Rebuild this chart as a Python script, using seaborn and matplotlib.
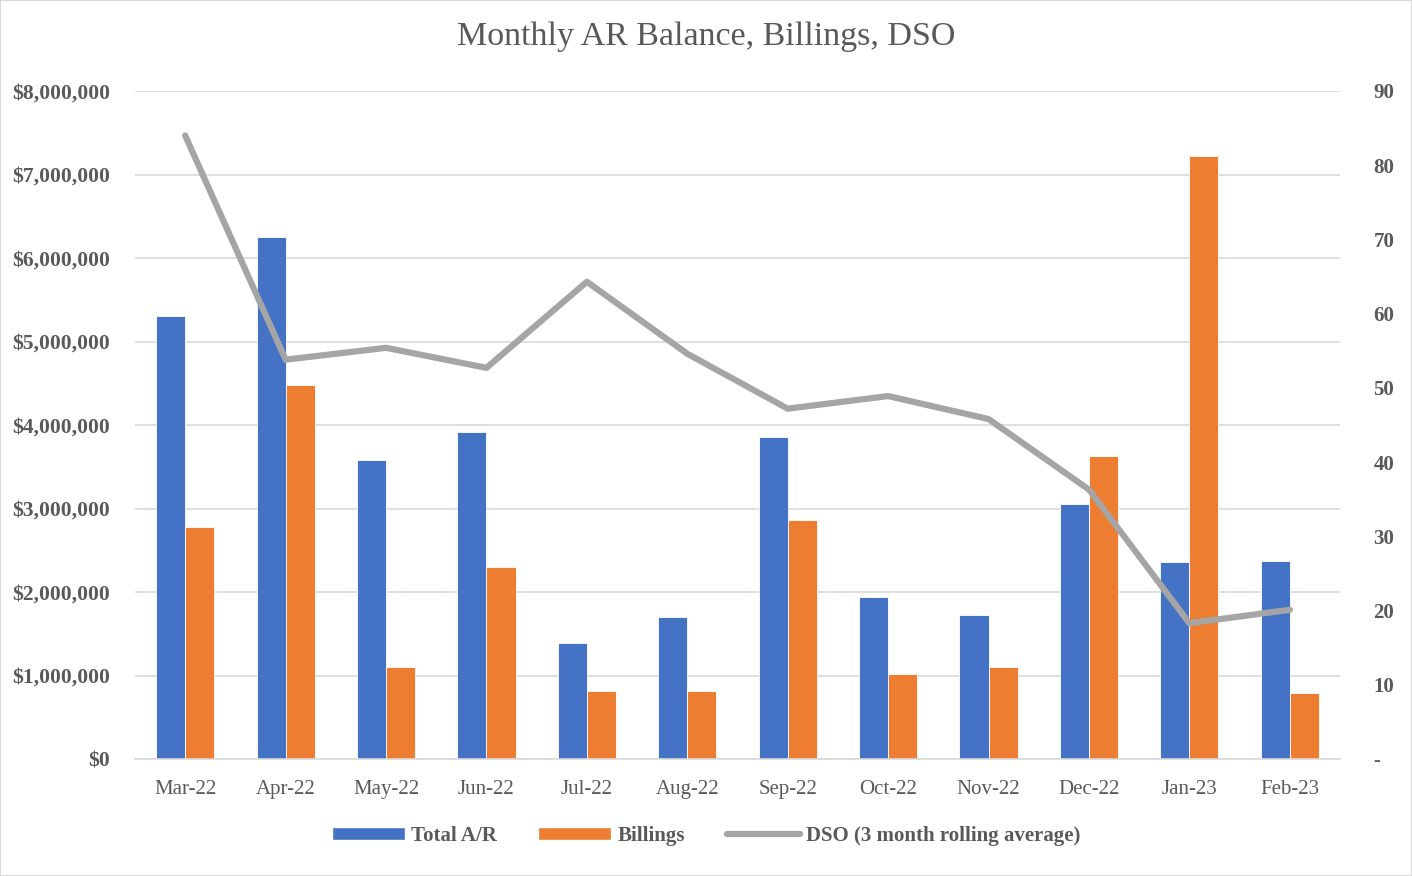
import matplotlib
matplotlib.use("Agg", force=True)
import matplotlib.pyplot as plt
import matplotlib.ticker as mticker
import numpy as np
import pandas as pd
import seaborn as sns
from matplotlib.lines import Line2D
from matplotlib.patches import Patch, Rectangle

MONTHS = ["Mar-22", "Apr-22", "May-22", "Jun-22", "Jul-22", "Aug-22",
          "Sep-22", "Oct-22", "Nov-22", "Dec-22", "Jan-23", "Feb-23"]
TOTAL_AR = [5_305_000, 6_250_000, 3_580_000, 3_920_000, 1_390_000, 1_700_000,
            3_860_000, 1_940_000, 1_720_000, 3_050_000, 2_360_000, 2_370_000]
BILLINGS = [2_780_000, 4_480_000, 1_100_000, 2_300_000, 810_000, 810_000,
            2_860_000, 1_020_000, 1_100_000, 3_630_000, 7_220_000, 790_000]
DSO = [84.0, 53.8, 55.4, 52.7, 64.3, 54.6, 47.2, 48.9, 45.8, 36.3, 18.3, 20.1]

BLUE = "#4472C4"
ORANGE = "#ED7D31"
GREY = "#A5A5A5"
TEXT = "#595959"
SERIF = ["Liberation Serif", "DejaVu Serif"]


def main() -> None:
    sns.set_theme(style="white")
    plt.rcParams["font.family"] = SERIF

    bars = pd.DataFrame({
        "month": MONTHS * 2,
        "value": TOTAL_AR + BILLINGS,
        "series": ["Total A/R"] * len(MONTHS) + ["Billings"] * len(MONTHS),
    })

    fig = plt.figure(figsize=(14.12, 8.76), dpi=100)
    ax = fig.add_axes([135 / 1412, 1 - 759 / 876, 1205 / 1412, 668 / 876])
    sns.barplot(data=bars, x="month", y="value", hue="series", order=MONTHS,
                palette=[BLUE, ORANGE], width=0.58, saturation=1, ax=ax,
                legend=False, zorder=2, linewidth=0.6)
    ax.set_ylim(0, 8_000_000)
    ax.set_xlim(-0.5, len(MONTHS) - 0.5)
    ax.yaxis.set_major_locator(mticker.MultipleLocator(1_000_000))
    ax.yaxis.set_major_formatter(mticker.FuncFormatter(lambda v, _: f"${v:,.0f}"))
    ax.grid(axis="y", color="#D9D9D9", linewidth=1.2, zorder=0)
    ax.set_axisbelow(True)
    for side in ["top", "right", "left"]:
        ax.spines[side].set_visible(False)
    ax.spines["bottom"].set_color("#D9D9D9")
    ax.spines["bottom"].set_linewidth(1.2)
    ax.set_xlabel("")
    ax.set_ylabel("")
    ax.tick_params(axis="x", which="major", length=0, pad=15, labelsize=15, labelcolor=TEXT)
    ax.set_xticks(np.arange(-0.5, len(MONTHS)), minor=True)
    ax.tick_params(axis="x", which="minor", length=7, color="#D9D9D9", width=1.2)
    ax.tick_params(axis="y", length=0, pad=18, labelsize=15.5, labelcolor=TEXT)
    for lbl in ax.get_yticklabels():
        lbl.set_fontweight("bold")

    ax2 = ax.twinx()
    sns.lineplot(x=np.arange(len(MONTHS)), y=DSO, color=GREY, linewidth=4.5,
                 ax=ax2, zorder=3)
    ax2.set_ylim(0, 90)
    ax2.yaxis.set_major_locator(mticker.MultipleLocator(10))
    ax2.yaxis.set_major_formatter(mticker.FuncFormatter(lambda v, _: "-" if v == 0 else f"{v:.0f}"))
    for side in ax2.spines:
        ax2.spines[side].set_visible(False)
    ax2.tick_params(axis="y", length=0, pad=24, labelsize=15, labelcolor=TEXT)
    for lbl in ax2.get_yticklabels():
        lbl.set_fontweight("bold")
    ax2.set_xlim(-0.5, len(MONTHS) - 0.5)

    fig.text(0.5, 1 - 37 / 876, "Monthly AR Balance, Billings, DSO", ha="center",
             va="center", fontsize=24.5, color=TEXT)

    handles = [
        Patch(facecolor=BLUE, label="Total A/R"),
        Patch(facecolor=ORANGE, label="Billings"),
        Line2D([0], [0], color=GREY, linewidth=4.5, label="DSO (3 month rolling average)"),
    ]
    fig.legend(handles=handles, loc="center", bbox_to_anchor=(0.5, 1 - 836 / 876),
               ncol=3, frameon=False, handlelength=3.5, handleheight=0.6,
               columnspacing=2.0, handletextpad=0.3,
               prop={"family": SERIF, "size": 15, "weight": "bold"},
               labelcolor=TEXT)

    fig.patches.append(Rectangle((0, 0), 1, 1, transform=fig.transFigure,
                                 fill=False, edgecolor="#D9D9D9", linewidth=1.5))
    fig.savefig("out.png", dpi=100)
    plt.close(fig)


if __name__ == "__main__":
    main()
